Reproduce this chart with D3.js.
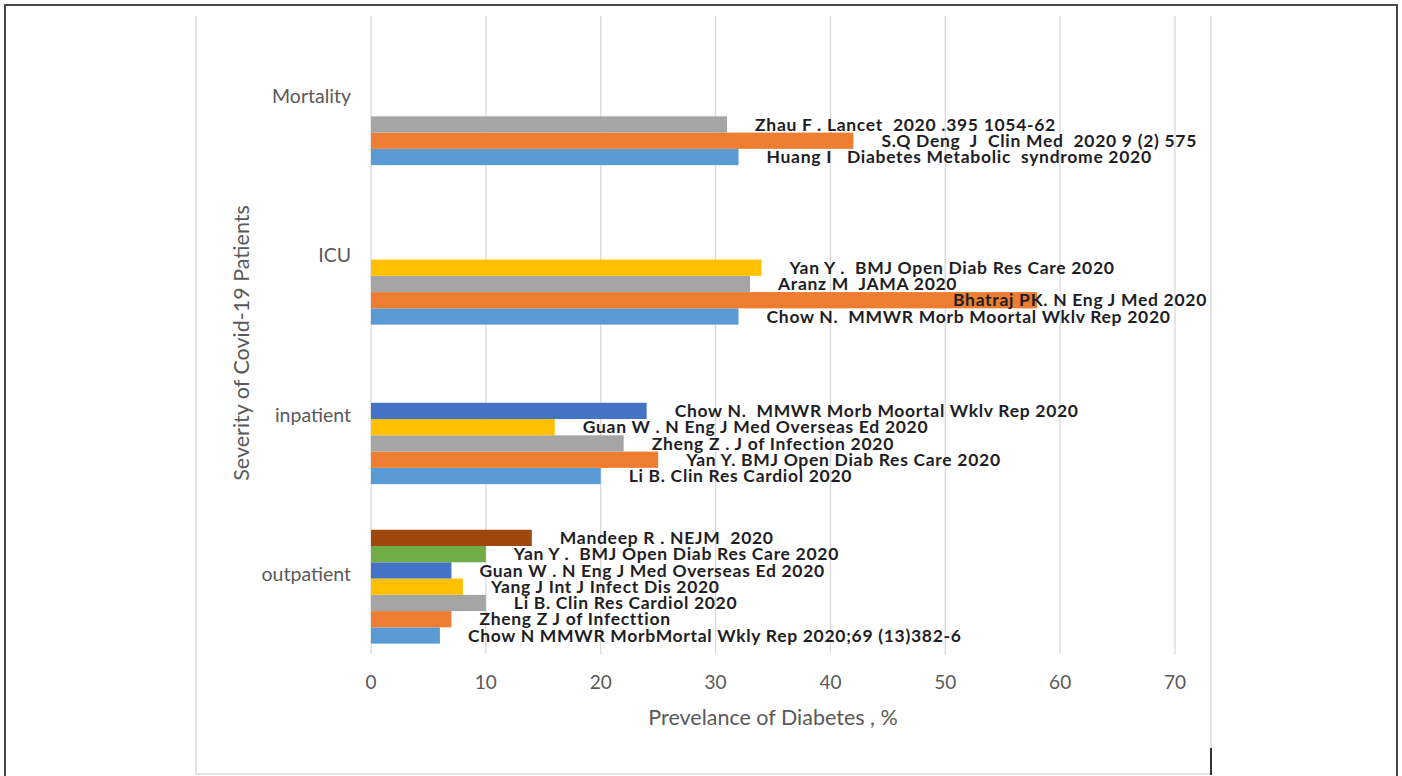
<!DOCTYPE html>
<html>
<head>
<meta charset="utf-8">
<script src="https://cdn.jsdelivr.net/npm/d3@7"></script>
<style>
  body { margin: 0; background: #fff; }
  svg { display: block; }
</style>
</head>
<body>
<div id="chart"></div>
<script>
// categories, bottom to top as drawn
const categories = ['outpatient', 'inpatient', 'ICU', 'Mortality'];

// series values per category, bottom bar first
const outpatientValues = [6, 7, 10, 8, 7, 10, 14];
const inpatientValues = [20, 25, 22, 16, 24];
const icuValues = [32, 58, 33, 34];
const mortalityValues = [32, 42, 31];

const outpatientRefs = [
  'Chow N MMWR MorbMortal Wkly Rep 2020;69 (13)382-6',
  'Zheng Z J of Infecttion',
  'Li B. Clin Res Cardiol 2020',
  'Yang J Int J Infect Dis 2020',
  'Guan W . N Eng J Med Overseas Ed 2020',
  'Yan Y .  BMJ Open Diab Res Care 2020',
  'Mandeep R . NEJM  2020'
];
const inpatientRefs = [
  'Li B. Clin Res Cardiol 2020',
  'Yan Y. BMJ Open Diab Res Care 2020',
  'Zheng Z . J of Infection 2020',
  'Guan W . N Eng J Med Overseas Ed 2020',
  'Chow N.  MMWR Morb Moortal Wklv Rep 2020'
];
const icuRefs = [
  'Chow N.  MMWR Morb Moortal Wklv Rep 2020',
  'Bhatraj PK. N Eng J Med 2020',
  'Aranz M  JAMA 2020',
  'Yan Y .  BMJ Open Diab Res Care 2020'
];
const mortalityRefs = [
  'Huang I   Diabetes Metabolic  syndrome 2020',
  'S.Q Deng  J  Clin Med  2020 9 (2) 575',
  'Zhau F . Lancet  2020 .395 1054-62'
];

const xTicks = [0, 10, 20, 30, 40, 50, 60, 70];

const seriesColors = ['#5b9bd5', '#ed7d31', '#a5a5a5', '#ffc000', '#4472c4', '#70ad47', '#9e480e'];

const groups = [
  { cat: 'outpatient', values: outpatientValues, refs: outpatientRefs },
  { cat: 'inpatient', values: inpatientValues, refs: inpatientRefs },
  { cat: 'ICU', values: icuValues, refs: icuRefs },
  { cat: 'Mortality', values: mortalityValues, refs: mortalityRefs }
];

const width = 1402, height = 776;
const plot = { left: 371, right: 1175, top: 16, bottom: 654 };
const labelLimit = 1207;

const svg = d3.select('#chart').append('svg')
  .attr('width', width)
  .attr('height', height);

// outer frame
svg.append('rect')
  .attr('x', 5).attr('y', 5)
  .attr('width', 1392).attr('height', 800)
  .attr('fill', 'none')
  .attr('stroke', '#4a4a4a')
  .attr('stroke-width', 2);

// chart area border (left, bottom, right)
svg.append('path')
  .attr('d', `M196,16V774H1211V16`)
  .attr('fill', 'none')
  .attr('stroke', '#d9d9d9')
  .attr('stroke-width', 1.5);
svg.append('line')
  .attr('x1', 1211).attr('x2', 1211)
  .attr('y1', 748).attr('y2', 775)
  .attr('stroke', '#333')
  .attr('stroke-width', 2);

const x = d3.scaleLinear()
  .domain([0, 70])
  .range([plot.left, plot.right]);

const y = d3.scaleBand()
  .domain(categories)
  .range([plot.bottom, plot.top]);

const barH = y.bandwidth() * 0.102;
const bottomGap = y.bandwidth() * 0.065;

// gridlines
svg.append('g')
  .selectAll('line')
  .data(xTicks)
  .join('line')
  .attr('x1', d => x(d)).attr('x2', d => x(d))
  .attr('y1', plot.top).attr('y2', plot.bottom)
  .attr('stroke', '#d9d9d9')
  .attr('stroke-width', 1.3);

// x tick labels
svg.append('g')
  .selectAll('text')
  .data(xTicks)
  .join('text')
  .attr('x', d => x(d))
  .attr('y', 689)
  .attr('text-anchor', 'middle')
  .attr('font-family', 'Lato, sans-serif')
  .attr('font-size', 19)
  .attr('fill', '#595959')
  .text(d => d);

// category labels
svg.append('g')
  .selectAll('text')
  .data(categories)
  .join('text')
  .attr('x', 351)
  .attr('y', d => y(d) + y.bandwidth() / 2)
  .attr('dy', '0.35em')
  .attr('text-anchor', 'end')
  .attr('font-family', 'Lato, sans-serif')
  .attr('font-size', 19.5)
  .attr('fill', '#595959')
  .text(d => d);

// axis titles
svg.append('text')
  .attr('x', 773)
  .attr('y', 725)
  .attr('text-anchor', 'middle')
  .attr('font-family', 'Lato, sans-serif')
  .attr('font-size', 21.5)
  .attr('fill', '#595959')
  .text('Prevelance of Diabetes , %');

svg.append('text')
  .attr('transform', `translate(249, ${(plot.top + plot.bottom) / 2 + 8}) rotate(-90)`)
  .attr('text-anchor', 'middle')
  .attr('font-family', 'Lato, sans-serif')
  .attr('font-size', 21.5)
  .attr('fill', '#595959')
  .text('Severity of Covid-19 Patients');

// flatten bars
const bars = [];
groups.forEach(g => {
  g.values.forEach((v, i) => {
    bars.push({ cat: g.cat, idx: i, value: v, ref: g.refs[i] });
  });
});
const barY = d => y(d.cat) + y.bandwidth() - bottomGap - (d.idx + 1) * barH;

svg.append('g')
  .selectAll('rect')
  .data(bars)
  .join('rect')
  .attr('x', x(0))
  .attr('y', barY)
  .attr('width', d => x(d.value) - x(0))
  .attr('height', barH)
  .attr('fill', d => seriesColors[d.idx]);

// data labels (reference names), placed after the bar end, kept inside the box
svg.append('g')
  .selectAll('text')
  .data(bars)
  .join('text')
  .attr('y', d => barY(d) + barH / 2)
  .attr('dy', '0.35em')
  .attr('font-family', 'Lato, sans-serif')
  .attr('font-weight', 'bold')
  .attr('font-size', 17.5)
  .attr('letter-spacing', 0.7)
  .attr('fill', '#1e1e24')
  .attr('xml:space', 'preserve')
  .style('white-space', 'pre')
  .text(d => d.ref)
  .attr('x', function (d) {
    const w = this.getComputedTextLength();
    return Math.min(x(d.value) + 28, labelLimit - w);
  });
</script>
</body>
</html>
